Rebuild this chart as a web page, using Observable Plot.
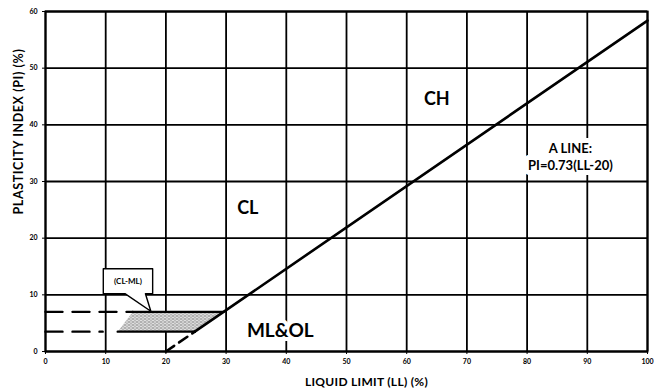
<!DOCTYPE html>
<html>
<head>
<meta charset="utf-8">
<script src="https://cdn.jsdelivr.net/npm/d3@7"></script>
<script src="https://cdn.jsdelivr.net/npm/@observablehq/plot@0.6"></script>
<style>
  html, body { margin: 0; padding: 0; background: #fff; }
  svg { display: block; }
</style>
</head>
<body>
<div id="chart"></div>
<script>
// ---- data ----
const xTicks = [0, 10, 20, 30, 40, 50, 60, 70, 80, 90, 100];
const yTicks = [0, 10, 20, 30, 40, 50, 60];

// A line: PI = 0.73(LL-20)
const aSolidLL = [24.8, 100];
const aSolidPI = [3.5, 58.4];
const aDashLL = [20, 24.8];
const aDashPI = [0, 3.5];

// CL-ML band boundaries
const upperDashLL = [0, 14.5];
const upperSolidLL = [14.5, 29.6];
const upperPI = 7;
const lowerDashLL = [0, 9.5];
const lowerSolidLL = [12, 24.8];
const lowerPI = 3.5;

// shaded CL-ML zone (polygon)
const zoneLL = [14.5, 29.6, 24.8, 12, 14.5];
const zonePI = [7, 7, 3.5, 3.5, 7];

// callout box for (CL-ML)
const calloutLL = [9.6, 17.8, 17.8, 16.6, 17.5, 13.2, 9.6, 9.6];
const calloutPI = [14.6, 14.6, 10.2, 10.2, 7.1, 10.2, 10.2, 14.6];
const calloutText = ["(CL-ML)"];
const calloutTextLL = [13.7];
const calloutTextPI = [12.4];

// region labels
const regionLabels = ["CH", "CL", "ML&OL"];
const regionLL = [65, 33.6, 39];
const regionPI = [44.6, 25.2, 3.7];

// A line annotation
const aLabel = ["A LINE:", "PI=0.73(LL-20)"];
const aLabelLL = [87.2, 87.2];
const aLabelPI = [35.8, 32.8];

const xLabel = "LIQUID LIMIT (LL) (%)";
const yLabel = "PLASTICITY INDEX (PI) (%)";

const pts = (xs, ys) => xs.map((x, i) => ({x, y: Array.isArray(ys) ? ys[i] : ys}));

const font = "Lato, 'Open Sans', sans-serif";

const chart = Plot.plot({
  width: 657,
  height: 392,
  marginTop: 11,
  marginBottom: 41,
  marginLeft: 45,
  marginRight: 10,
  style: {fontFamily: font, color: "black", background: "white"},
  x: {domain: [0, 100]},
  y: {domain: [0, 60]},
  marks: [
    Plot.gridX(xTicks, {stroke: "black", strokeOpacity: 1, strokeWidth: 1.8}),
    Plot.gridY(yTicks, {stroke: "black", strokeOpacity: 1, strokeWidth: 1.8}),
    Plot.frame({stroke: "black", strokeWidth: 2}),
    Plot.axisX(xTicks, {tickSize: 3, tickPadding: 5, fontSize: 7, fontWeight: "bold", label: null}),
    Plot.axisY(yTicks, {tickSize: 3, tickPadding: 5, fontSize: 7, fontWeight: "bold", label: null}),
    // shaded zone
    Plot.line(pts(zoneLL, zonePI), {x: "x", y: "y", stroke: "none", fill: "url(#stipple)"}),
    // CL-ML boundaries
    Plot.line(pts(upperDashLL, upperPI), {x: "x", y: "y", stroke: "black", strokeWidth: 2.4, strokeDasharray: "17,10"}),
    Plot.line(pts(upperSolidLL, upperPI), {x: "x", y: "y", stroke: "black", strokeWidth: 2.4}),
    Plot.line(pts(lowerDashLL, lowerPI), {x: "x", y: "y", stroke: "black", strokeWidth: 2.4, strokeDasharray: "17,10"}),
    Plot.line(pts(lowerSolidLL, lowerPI), {x: "x", y: "y", stroke: "black", strokeWidth: 2.4}),
    // A line
    Plot.line(pts(aDashLL, aDashPI), {x: "x", y: "y", stroke: "black", strokeWidth: 2.6, strokeDasharray: "10,6"}),
    Plot.line(pts(aSolidLL, aSolidPI), {x: "x", y: "y", stroke: "black", strokeWidth: 2.6}),
    // callout
    Plot.line(pts(calloutLL, calloutPI), {x: "x", y: "y", stroke: "black", strokeWidth: 1.4, fill: "white", curve: "linear-closed"}),
    Plot.text(calloutText, {x: (d, i) => calloutTextLL[i], y: (d, i) => calloutTextPI[i], text: d => d, fontSize: 8, fontWeight: "bold", fill: "black"}),
    // labels
    Plot.text(regionLabels, {
      x: (d, i) => regionLL[i], y: (d, i) => regionPI[i], text: d => d,
      fontSize: (d) => d === "ML&OL" ? 19 : 18, fill: "black", fontWeight: "bold",
      stroke: (d) => d === "ML&OL" ? "white" : "none", strokeWidth: 8
    }),
    Plot.text(aLabel, {
      x: (d, i) => aLabelLL[i], y: (d, i) => aLabelPI[i], text: d => d,
      fontSize: 13, fontWeight: "bold", fill: "black", stroke: "white", strokeWidth: 10
    }),
    Plot.text([xLabel], {frameAnchor: "bottom", textAnchor: "middle", lineAnchor: "middle", dx: 20, dy: 31, text: d => d, fontSize: 12, fontWeight: "bold", fill: "black"}),
    Plot.text([yLabel], {frameAnchor: "top-left", textAnchor: "middle", lineAnchor: "middle", dx: -27, dy: 120, rotate: -90, text: d => d, fontSize: 12.5, fontWeight: "bold", fill: "black"})
  ]
});

// stipple pattern definition
const svg = d3.select(chart);
const defs = svg.insert("defs", ":first-child");
const pat = defs.append("pattern")
  .attr("id", "stipple")
  .attr("patternUnits", "userSpaceOnUse")
  .attr("width", 4)
  .attr("height", 3);
pat.append("rect").attr("width", 4).attr("height", 3).attr("fill", "#e0e0e0");
pat.append("rect").attr("x", 0).attr("y", 0).attr("width", 1).attr("height", 1).attr("fill", "#222");
pat.append("rect").attr("x", 2).attr("y", 1.5).attr("width", 1).attr("height", 1).attr("fill", "#444");

// slight letter spacing on the axis titles to match the reference width
svg.selectAll("text").filter(function() { return this.textContent === xLabel; }).style("letter-spacing", "0.3px");
svg.selectAll("text").filter(function() { return this.textContent === yLabel; }).style("letter-spacing", "0.6px");

document.getElementById("chart").appendChild(chart);
</script>
</body>
</html>
